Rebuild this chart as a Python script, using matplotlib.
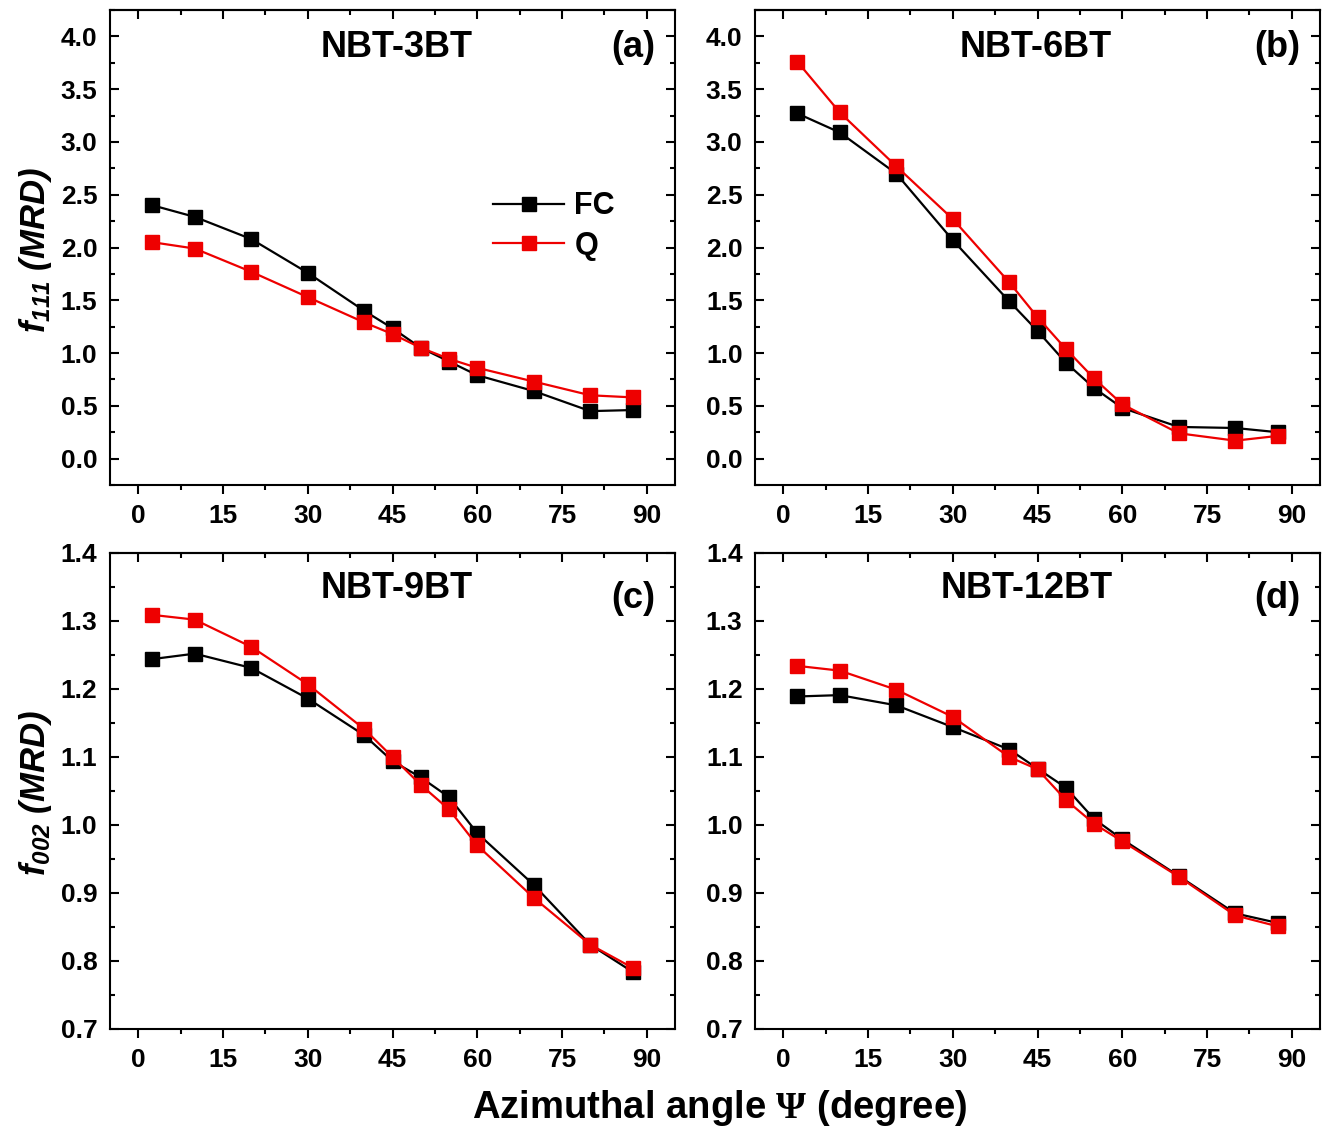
import matplotlib
matplotlib.use("Agg")
import matplotlib.pyplot as plt
from matplotlib.ticker import MultipleLocator

plt.rcParams["font.family"] = "Liberation Sans"
plt.rcParams["font.weight"] = "bold"
plt.rcParams["mathtext.fontset"] = "custom"
plt.rcParams["mathtext.it"] = "Liberation Sans:italic:bold"
plt.rcParams["mathtext.rm"] = "Liberation Sans:italic:bold"
plt.rcParams["mathtext.sf"] = "Liberation Serif"

# angulos azimutais (graus)
psi = [2.5, 10, 20, 30, 40, 45, 50, 55, 60, 70, 80, 87.5]

# f111 (MRD)
a_fc = [2.40, 2.29, 2.08, 1.76, 1.40, 1.235, 1.05, 0.92, 0.79, 0.64, 0.45, 0.46]
a_q = [2.05, 1.99, 1.77, 1.53, 1.29, 1.18, 1.05, 0.945, 0.86, 0.73, 0.60, 0.58]
b_fc = [3.27, 3.09, 2.70, 2.07, 1.49, 1.21, 0.91, 0.67, 0.48, 0.30, 0.29, 0.25]
b_q = [3.76, 3.28, 2.77, 2.27, 1.67, 1.34, 1.04, 0.76, 0.515, 0.24, 0.17, 0.215]

# f002 (MRD)
c_fc = [1.244, 1.252, 1.231, 1.186, 1.132, 1.094, 1.070, 1.041, 0.988, 0.912, 0.824, 0.784]
c_q = [1.309, 1.302, 1.262, 1.207, 1.141, 1.100, 1.059, 1.023, 0.970, 0.893, 0.824, 0.790]
d_fc = [1.189, 1.191, 1.176, 1.144, 1.111, 1.083, 1.055, 1.009, 0.979, 0.925, 0.870, 0.856]
d_q = [1.234, 1.227, 1.199, 1.159, 1.100, 1.082, 1.037, 1.002, 0.976, 0.924, 0.867, 0.851]

panels = [
    ("NBT-3BT", "(a)", a_fc, a_q),
    ("NBT-6BT", "(b)", b_fc, b_q),
    ("NBT-9BT", "(c)", c_fc, c_q),
    ("NBT-12BT", "(d)", d_fc, d_q),
]

W, H = 1331, 1133
fig = plt.figure(figsize=(W / 100, H / 100), dpi=100)


def box(left, top, right, bottom):
    return [left / W, (H - bottom) / H, (right - left) / W, (bottom - top) / H]


boxes = [
    box(110, 10, 675, 485),
    box(755, 10, 1320, 485),
    box(110, 553, 675, 1029),
    box(755, 553, 1320, 1029),
]
title_x = [0.508, 0.497, 0.508, 0.48]

for i, (name, tag, fc, q) in enumerate(panels):
    ax = fig.add_axes(boxes[i])
    ax.plot(psi, fc, "-s", color="black", lw=1.6, ms=9.5, label="FC")
    ax.plot(psi, q, "-s", color="#ee0000", lw=1.6, ms=9.5, label="Q")

    ax.set_xlim(-5, 95)
    ax.xaxis.set_major_locator(MultipleLocator(15))
    ax.xaxis.set_minor_locator(MultipleLocator(7.5))
    if i < 2:
        ax.set_ylim(-0.25, 4.25)
        ax.yaxis.set_major_locator(MultipleLocator(0.5))
        ax.yaxis.set_minor_locator(MultipleLocator(0.25))
        ty, ly = 0.922, 0.922
    else:
        ax.set_ylim(0.7, 1.4)
        ax.yaxis.set_major_locator(MultipleLocator(0.1))
        ax.yaxis.set_minor_locator(MultipleLocator(0.05))
        ty, ly = 0.926, 0.905
    ax.yaxis.set_major_formatter("{x:.1f}")

    for s in ax.spines.values():
        s.set_linewidth(1.5)

    ax.tick_params(axis="x", which="both", direction="out", top=False,
                   labelsize=19, width=1.5, pad=7)
    ax.tick_params(axis="x", which="major", length=6.5)
    ax.tick_params(axis="x", which="minor", length=3.6)
    ax.tick_params(axis="y", which="both", direction="in", right=True,
                   labelsize=19, width=1.5, pad=9)
    ax.tick_params(axis="y", which="major", length=6.5)
    ax.tick_params(axis="y", which="minor", length=3.6)

    # ticks do topo para dentro
    top = ax.secondary_xaxis("top")
    top.xaxis.set_major_locator(MultipleLocator(15))
    top.xaxis.set_minor_locator(MultipleLocator(7.5))
    top.tick_params(which="both", direction="in", labeltop=False, width=1.5)
    top.tick_params(which="major", length=6.5)
    top.tick_params(which="minor", length=3.6)
    top.spines["top"].set_linewidth(1.5)

    ax.text(title_x[i], ty, name, transform=ax.transAxes, ha="center", va="center",
            fontsize=26, fontweight="bold")
    ax.text(0.965, ly, tag, transform=ax.transAxes, ha="right", va="center",
            fontsize=26, fontweight="bold")

    if i == 0:
        ax.legend(loc="upper left", bbox_to_anchor=(0.63, 0.676), frameon=False,
                  fontsize=22, handlelength=2.3, handletextpad=0.35,
                  labelspacing=0.3)

fig.text(35 / W, (H - 250) / H, r"$\mathit{f}_{\mathit{111}}$ (MRD)", rotation=90,
         ha="center", va="center", fontsize=25, fontweight="bold", fontstyle="italic")
fig.text(35 / W, (H - 793) / H, r"$\mathit{f}_{\mathit{002}}$ (MRD)", rotation=90,
         ha="center", va="center", fontsize=25, fontweight="bold", fontstyle="italic")
fig.text(720 / W, (H - 1108) / H, r"Azimuthal angle $\mathsf{\Psi}$ (degree)",
         ha="center", va="center", fontsize=27.5, fontweight="bold")

fig.savefig("out.png", dpi=100)
print("[OK] out.png")
